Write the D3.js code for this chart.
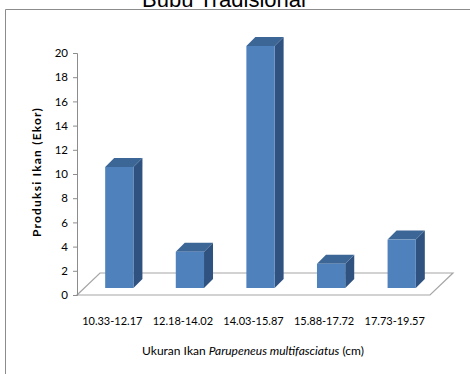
<!DOCTYPE html>
<html>
<head>
<meta charset="utf-8">
<script src="https://cdn.jsdelivr.net/npm/d3@7"></script>
<style>
  body { margin: 0; background: #fff; }
  svg { display: block; }
</style>
</head>
<body>
<div id="chart"></div>
<script>
// data
const categories = ['10.33-12.17', '12.18-14.02', '14.03-15.87', '15.88-17.72', '17.73-19.57'];
const counts = [10, 3, 20, 2, 4];
const yTicks = [0, 2, 4, 6, 8, 10, 12, 14, 16, 18, 20];

const width = 470;
const height = 374;
const font = 'Lato, "Open Sans", sans-serif';

const svg = d3.select('#chart')
    .append('svg')
    .attr('width', width)
    .attr('height', height);

// frame round the chart area
svg.append('path')
    .attr('d', 'M5.5,374 L5.5,9.5 L470,9.5')
    .attr('fill', 'none')
    .attr('stroke', '#8c8c8c')
    .attr('stroke-width', 1);

// title, cut off at the top
svg.append('text')
    .attr('x', 224)
    .attr('y', 7)
    .attr('text-anchor', 'middle')
    .style('font-family', '"Liberation Sans", Arial, sans-serif')
    .style('font-size', '22px')
    .text('Bubu Tradisional');

let x = d3.scaleBand()
    .domain(categories)
    .range([77, 430])
    .padding(0);

let y = d3.scaleLinear()
    .domain([0, 20])
    .range([295, 53]);

// 3D depth offsets
const floorDx = 23, floorDy = -22;
const barOff = 7, barDepth = 9;
const barW = x.bandwidth() * 0.4;

// floor
const x0 = x.range()[0], x1 = x.range()[1], y0 = y(0);
svg.append('path')
    .attr('d', `M${x0},${y0} L${x1},${y0} L${x1 + floorDx},${y0 + floorDy} L${x0 + floorDx},${y0 + floorDy} Z`)
    .attr('fill', '#fff')
    .attr('stroke', '#a6a6a6')
    .attr('stroke-width', 1.2);

// y axis
let yAxis = svg.append('g')
    .attr('transform', `translate(${x0}, 0)`)
    .call(d3.axisLeft(y).tickValues(yTicks).tickSize(4).tickPadding(5));
yAxis.select('.domain').attr('stroke', '#8c8c8c');
yAxis.selectAll('.tick line').attr('stroke', '#8c8c8c');
yAxis.selectAll('text')
    .style('font-family', font)
    .style('font-size', '11.5px')
    .attr('fill', '#000');

svg.append('text')
    .attr('transform', 'translate(41, 172) rotate(-90)')
    .attr('text-anchor', 'middle')
    .style('font-family', font)
    .style('font-size', '12px')
    .style('font-weight', 'bold')
    .style('letter-spacing', '1.2px')
    .text('Produksi Ikan  (Ekor)');

// bars
const bars = svg.selectAll('.bar').data(categories.map((c, i) => ({cat: c, val: counts[i]})))
    .enter().append('g')
    .attr('class', 'bar');

function fx(d) { return x(d.cat) + x.bandwidth() / 2 - barW / 2 + barOff; }
function fyTop(d) { return y(d.val) - barOff; }
function fyBot() { return y(0) - barOff; }

// side face
bars.append('path')
    .attr('d', d => {
        const r = fx(d) + barW;
        return `M${r},${fyTop(d)} L${r + barDepth},${fyTop(d) - barDepth} L${r + barDepth},${fyBot() - barDepth} L${r},${fyBot()} Z`;
    })
    .attr('fill', '#2f5280');

// top face
bars.append('path')
    .attr('d', d => {
        const l = fx(d), r = l + barW, t = fyTop(d);
        return `M${l},${t} L${l + barDepth},${t - barDepth} L${r + barDepth},${t - barDepth} L${r},${t} Z`;
    })
    .attr('fill', '#3c6695');

// front face
bars.append('rect')
    .attr('x', d => fx(d))
    .attr('y', d => fyTop(d))
    .attr('width', barW)
    .attr('height', d => fyBot() - fyTop(d))
    .attr('fill', '#4f81bd');

// category labels
svg.selectAll('.catLabel').data(categories)
    .enter().append('text')
    .attr('class', 'catLabel')
    .attr('x', d => x(d) + x.bandwidth() / 2)
    .attr('y', 325)
    .attr('text-anchor', 'middle')
    .style('font-family', font)
    .style('font-size', '11px')
    .text(d => d);

// x axis title
let xTitle = svg.append('text')
    .attr('x', 253)
    .attr('y', 355)
    .attr('text-anchor', 'middle')
    .style('font-family', font)
    .style('font-size', '12px');
xTitle.append('tspan').text('Ukuran Ikan ');
xTitle.append('tspan').style('font-style', 'italic').text('Parupeneus  multifasciatus');
xTitle.append('tspan').text(' (cm)');
</script>
</body>
</html>
